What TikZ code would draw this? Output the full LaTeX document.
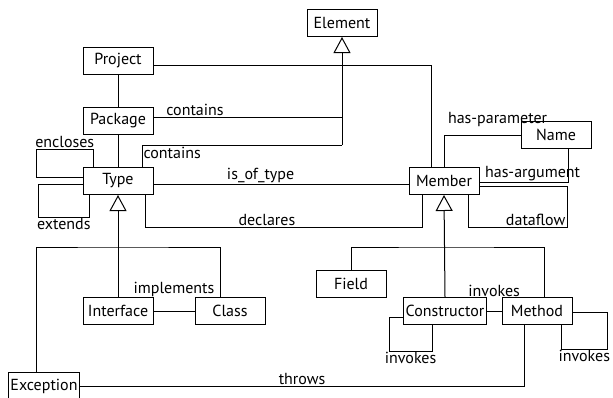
\documentclass[tikz,border=0pt]{standalone}
\usepackage{fontspec}
\setmainfont{PT Sans}
\usetikzlibrary{arrows.meta}

\begin{document}
\begin{tikzpicture}
[
	x=1pt,y=-1pt,
	line width=1pt,
	entity/.style={draw,rectangle,minimum width=70pt,minimum height=27pt,inner sep=2pt,font=\fontsize{16}{18}\selectfont},
	rel/.style={font=\fontsize{16}{18}\selectfont,inner sep=1pt},
	isa/.style={-{Triangle[open,width=17pt,length=16pt,line width=1pt]}}
]
	\useasboundingbox (0,0) rectangle (613,397);

	% entities
	\node[entity] (element) at (342,23) {Element};
	\node[entity] (project) at (118,61) {Project};
	\node[entity] (package) at (118,121) {Package};
	\node[entity] (type) at (118,181) {Type};
	\node[entity] (member) at (444,181) {Member};
	\node[entity] (name) at (556,135) {Name};
	\node[entity] (interface) at (118,311) {Interface};
	\node[entity] (class) at (230,311) {Class};
	\node[entity] (exception) at (44,386) {Exception};
	\node[entity] (field) at (351,284) {Field};
	\node[entity] (constructor) at (445,311) {Constructor};
	\node[entity] (method) at (537,311) {Method};

	% generalisation buses
	\coordinate (elbus) at (342,145);
	\coordinate (tybus) at (118,247);
	\coordinate (mebus) at (445,247);

	% element hierarchy
	\draw[isa] (elbus) -- (element.south);
	\draw ([yshift=-4pt]project.east) -| ([xshift=-13pt]member.north);
	\draw (project) -- (package);
	\draw (package) -- (type);
	\draw ([yshift=4pt]package.east) -- ([yshift=4pt]package.east -| elbus)
		node[rel,above,pos=0.22] {contains};
	\draw ([xshift=24pt]type.north) |- (elbus)
		node[rel,below right,pos=0.5,yshift=-1pt] {contains};

	% type relations
	\draw ([yshift=4pt]type.west) -- ++(-46,0) -- ++(0,-28) -| ([xshift=-25pt]type.north)
		node[rel,above,pos=0.25] {encloses};
	\draw ([yshift=-3pt]type.west) -- ++(-44,0) -- ++(0,33) -| ([xshift=-29pt]type.south)
		node[rel,below,pos=0.25] {extends};
	\draw ([yshift=-3pt]type.east) -- ([yshift=-3pt]member.west)
		node[rel,above,pos=0.42] {is\_of\_type};
	\draw ([xshift=27pt]type.south) -- ++(0,32) -| ([xshift=-22pt]member.south)
		node[rel,above,pos=0.22] {declares};

	% type hierarchy
	\draw[isa] (interface.north) -- (type.south);
	\draw ([xshift=-8pt]exception.north) |- (tybus) -| ([xshift=-10pt]class.north);
	\draw (interface) -- (class) node[rel,above=13pt,midway] {implements};

	% member relations
	\draw (member.north) |- (name.west) node[rel,above=7pt,pos=0.85] {has-parameter};
	\draw ([yshift=-1pt]member.east) -| ([xshift=12pt]name.south)
		node[rel,above,pos=0.3] {has-argument};
	\draw ([yshift=-5pt]member.east) -- ++(88,0) -- ++(0,41) -| ([xshift=24pt]member.south)
		node[rel,above,pos=0.16] {dataflow};

	% member hierarchy
	\draw[isa] (constructor.north) -- (member.south);
	\draw (field.north) |- (mebus) -| ([xshift=7pt]method.north);
	\draw (constructor) -- (method) node[rel,above=13pt,midway] {invokes};
	\draw ([yshift=-6pt]constructor.west) -- ++(-14,0) -- ++(0,34) -| ([xshift=-13pt]constructor.south)
		node[rel,below,pos=0.25] {invokes};
	\draw ([yshift=-1pt]method.east) -- ++(35,0) -- ++(0,37) -| ([xshift=24pt]method.south)
		node[rel,below,pos=0.25] {invokes};
	\draw (exception.east) -| ([xshift=-13pt]method.south)
		node[rel,above,pos=0.25] {throws};

\end{tikzpicture}
\end{document}
